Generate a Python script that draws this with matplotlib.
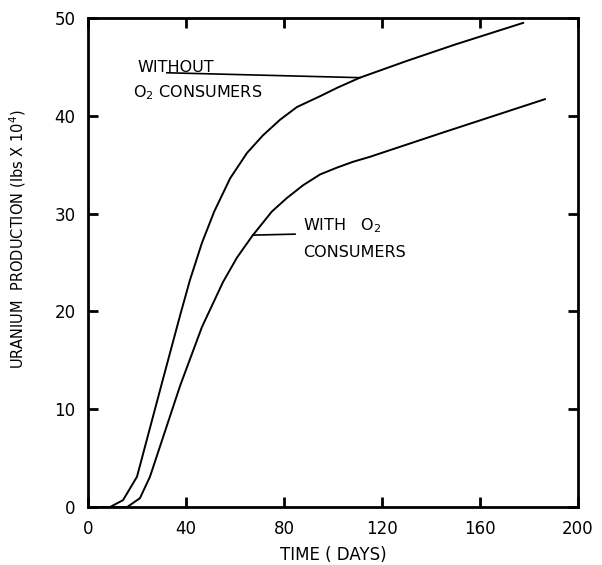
import matplotlib
matplotlib.use("Agg")
import matplotlib.pyplot as plt

# Data
without_days = [0, 9, 14.3, 20, 30.2, 37.6, 41.6, 46.5, 51.5, 58, 64.9, 71.4, 78.4, 85.3, 94.7, 102, 111, 130, 150, 177.6]
without_u = [0, 0, 0.7, 3.1, 12.7, 19.6, 23.2, 27.0, 30.2, 33.6, 36.2, 38.0, 39.6, 40.9, 42.0, 42.9, 43.9, 45.6, 47.3, 49.5]

with_days = [0, 16, 21.2, 25.3, 37.6, 46.5, 55.1, 60.8, 67, 75, 81.2, 87.8, 94.7, 101.6, 108.2, 115, 145, 186.5]
with_u = [0, 0, 0.9, 3.1, 12.4, 18.4, 23.0, 25.5, 27.7, 30.2, 31.6, 32.9, 34.0, 34.7, 35.3, 35.8, 38.3, 41.7]

x_ticks = [0, 40, 80, 120, 160, 200]
x_tick_labels = ["0", "40", "80", "120", "160", "200"]
y_ticks = [0, 10, 20, 30, 40, 50]
y_tick_labels = ["0", "10", "20", "30", "40", "50"]

plt.rcParams['font.family'] = ['DejaVu Sans']

fig = plt.figure(figsize=(6.02, 5.65), dpi=100)
ax = fig.add_axes([88/602, 1 - 507/565, 490/602, 489/565])

ax.plot(without_days, without_u, color="black", lw=1.4)
ax.plot(with_days, with_u, color="black", lw=1.4)

ax.set_xlim(0, 200)
ax.set_ylim(0, 50)
ax.set_xticks(x_ticks)
ax.set_xticklabels(x_tick_labels)
ax.set_yticks(y_ticks)
ax.set_yticklabels(y_tick_labels)
ax.tick_params(direction="in", length=7, width=2, top=True, right=True,
               labelsize=12, pad=9)
for s in ax.spines.values():
    s.set_linewidth(2)

ax.set_xlabel("TIME ( DAYS)", fontsize=12, labelpad=6)
ax.set_ylabel("URANIUM  PRODUCTION (lbs X 10$^4$)", fontsize=10.5)
ax.yaxis.set_label_coords(-0.122, 0.548)

# annotations
ax.text(20, 44.5, "WITHOUT", fontsize=11.5)
ax.text(18.4, 41.9, "O$_2$ CONSUMERS", fontsize=11.5)
ax.plot([32.2, 111], [44.4, 43.9], color="black", lw=1.2)

ax.text(87.8, 28.3, "WITH   O$_2$", fontsize=11.5)
ax.text(87.8, 25.6, "CONSUMERS", fontsize=11.5)
ax.plot([67.3, 84.5], [27.8, 27.9], color="black", lw=1.2)

fig.savefig("out.png", dpi=100)
